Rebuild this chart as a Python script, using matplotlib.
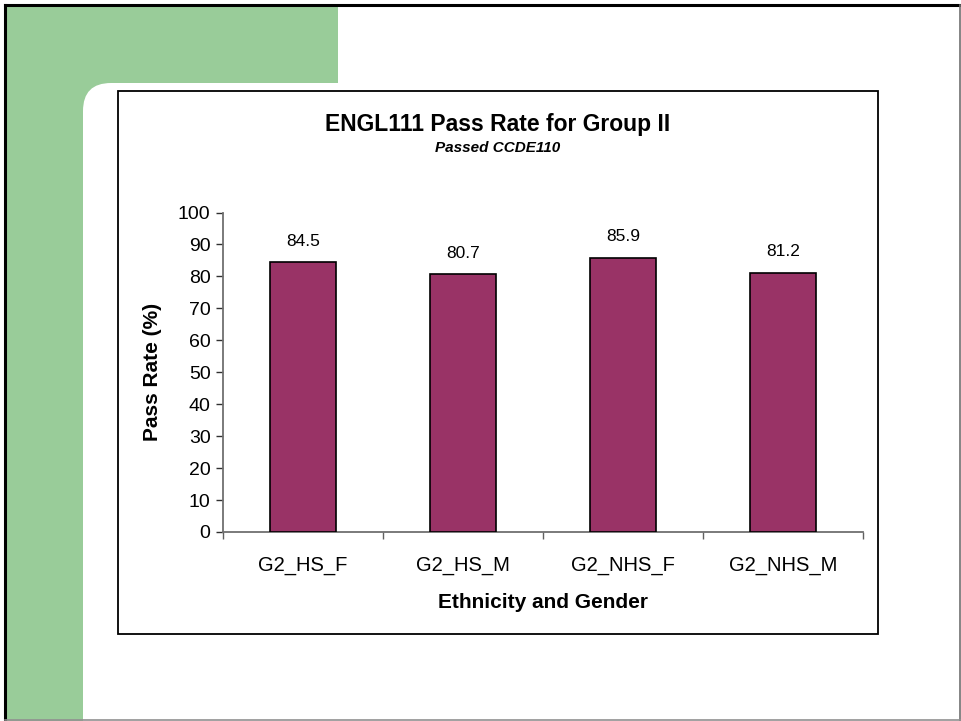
import matplotlib
matplotlib.use("Agg")
import matplotlib.pyplot as plt
from matplotlib.patches import Rectangle, FancyBboxPatch
from matplotlib.lines import Line2D

plt.rcParams['font.family'] = ['Liberation Sans', 'DejaVu Sans']

categories = ["G2_HS_F", "G2_HS_M", "G2_NHS_F", "G2_NHS_M"]
pass_rates = [84.5, 80.7, 85.9, 81.2]
y_ticks = [0, 10, 20, 30, 40, 50, 60, 70, 80, 90, 100]

W, H = 961, 721
fig = plt.figure(figsize=(W / 100, H / 100), dpi=100)

# Slide background drawn in pixel coordinates
bg = fig.add_axes([0, 0, 1, 1], zorder=0)
bg.set_xlim(0, W)
bg.set_ylim(H, 0)
bg.axis("off")

green = "#99CC99"
bg.add_patch(Rectangle((5, 5), 333, 78, facecolor=green, edgecolor="none"))
bg.add_patch(Rectangle((5, 5), 78, H, facecolor=green, edgecolor="none"))
bg.add_patch(Rectangle((83, 83), 40, 40, facecolor=green, edgecolor="none"))
bg.add_patch(FancyBboxPatch((83, 83), 1000, 1000,
                            boxstyle="round,pad=0,rounding_size=28",
                            facecolor="white", edgecolor="none"))

# Slide frame
bg.add_line(Line2D([4.5, 4.5], [4.5, H], color="black", lw=2.2))
bg.add_line(Line2D([4.5, W], [4.5, 4.5], color="black", lw=2.2))
bg.add_line(Line2D([959.8, 959.8], [4.5, H], color="#707070", lw=1.2))
bg.add_line(Line2D([4.5, W], [719.5, 719.5], color="#909090", lw=1.2))

# Chart area frame
bg.add_patch(Rectangle((118, 91), 760, 543, facecolor="white",
                       edgecolor="black", lw=1.3))

# Titles
bg.text(498, 124, "ENGL111 Pass Rate for Group II", ha="center", va="center",
        fontsize=16.5, fontweight="bold")
bg.text(498, 148, "Passed CCDE110", ha="center", va="center",
        fontsize=11, fontweight="bold", style="italic")

# Plot area
x0, x1, y0, y1 = 223, 863, 532, 212.5
ax = fig.add_axes([x0 / W, (H - y0) / H, (x1 - x0) / W, (y0 - y1) / H], zorder=1)
ax.patch.set_alpha(0)

xs = list(range(len(categories)))
ax.bar(xs, pass_rates, width=0.41, color="#993366", edgecolor="black",
       linewidth=1.2, zorder=3)
for x, v in zip(xs, pass_rates):
    ax.annotate(f"{v:.1f}", (x, v), xytext=(0, 15), textcoords="offset points",
                ha="center", va="center", fontsize=12.5)

ax.set_xlim(-0.5, len(categories) - 0.5)
ax.set_ylim(0, 100)
ax.set_yticks(y_ticks)
ax.set_xticks(xs)
ax.set_xticklabels(categories, fontsize=14.5)
ax.set_xticks([i - 0.5 for i in range(len(categories) + 1)], minor=True)
ax.tick_params(axis="x", which="major", length=0, pad=17)
ax.tick_params(axis="x", which="minor", length=5, direction="out",
               color="#606060", width=1)
ax.tick_params(axis="y", length=5, direction="out", labelsize=14,
               color="#303030", width=1, pad=4)

for side in ("top", "right"):
    ax.spines[side].set_visible(False)
for side in ("left", "bottom"):
    ax.spines[side].set_color("#707070")
    ax.spines[side].set_linewidth(1.3)

ax.set_ylabel("Pass Rate (%)", fontsize=15, fontweight="bold")
ax.yaxis.set_label_coords(-(223 - 153) / 640, 0.5)
ax.set_xlabel("Ethnicity and Gender", fontsize=15, fontweight="bold")
ax.xaxis.set_label_coords(0.5, -(603 - 532) / 319.5)
ax.xaxis.label.set_va("center")
ax.yaxis.label.set_va("center")

fig.savefig("out.png", dpi=100)
